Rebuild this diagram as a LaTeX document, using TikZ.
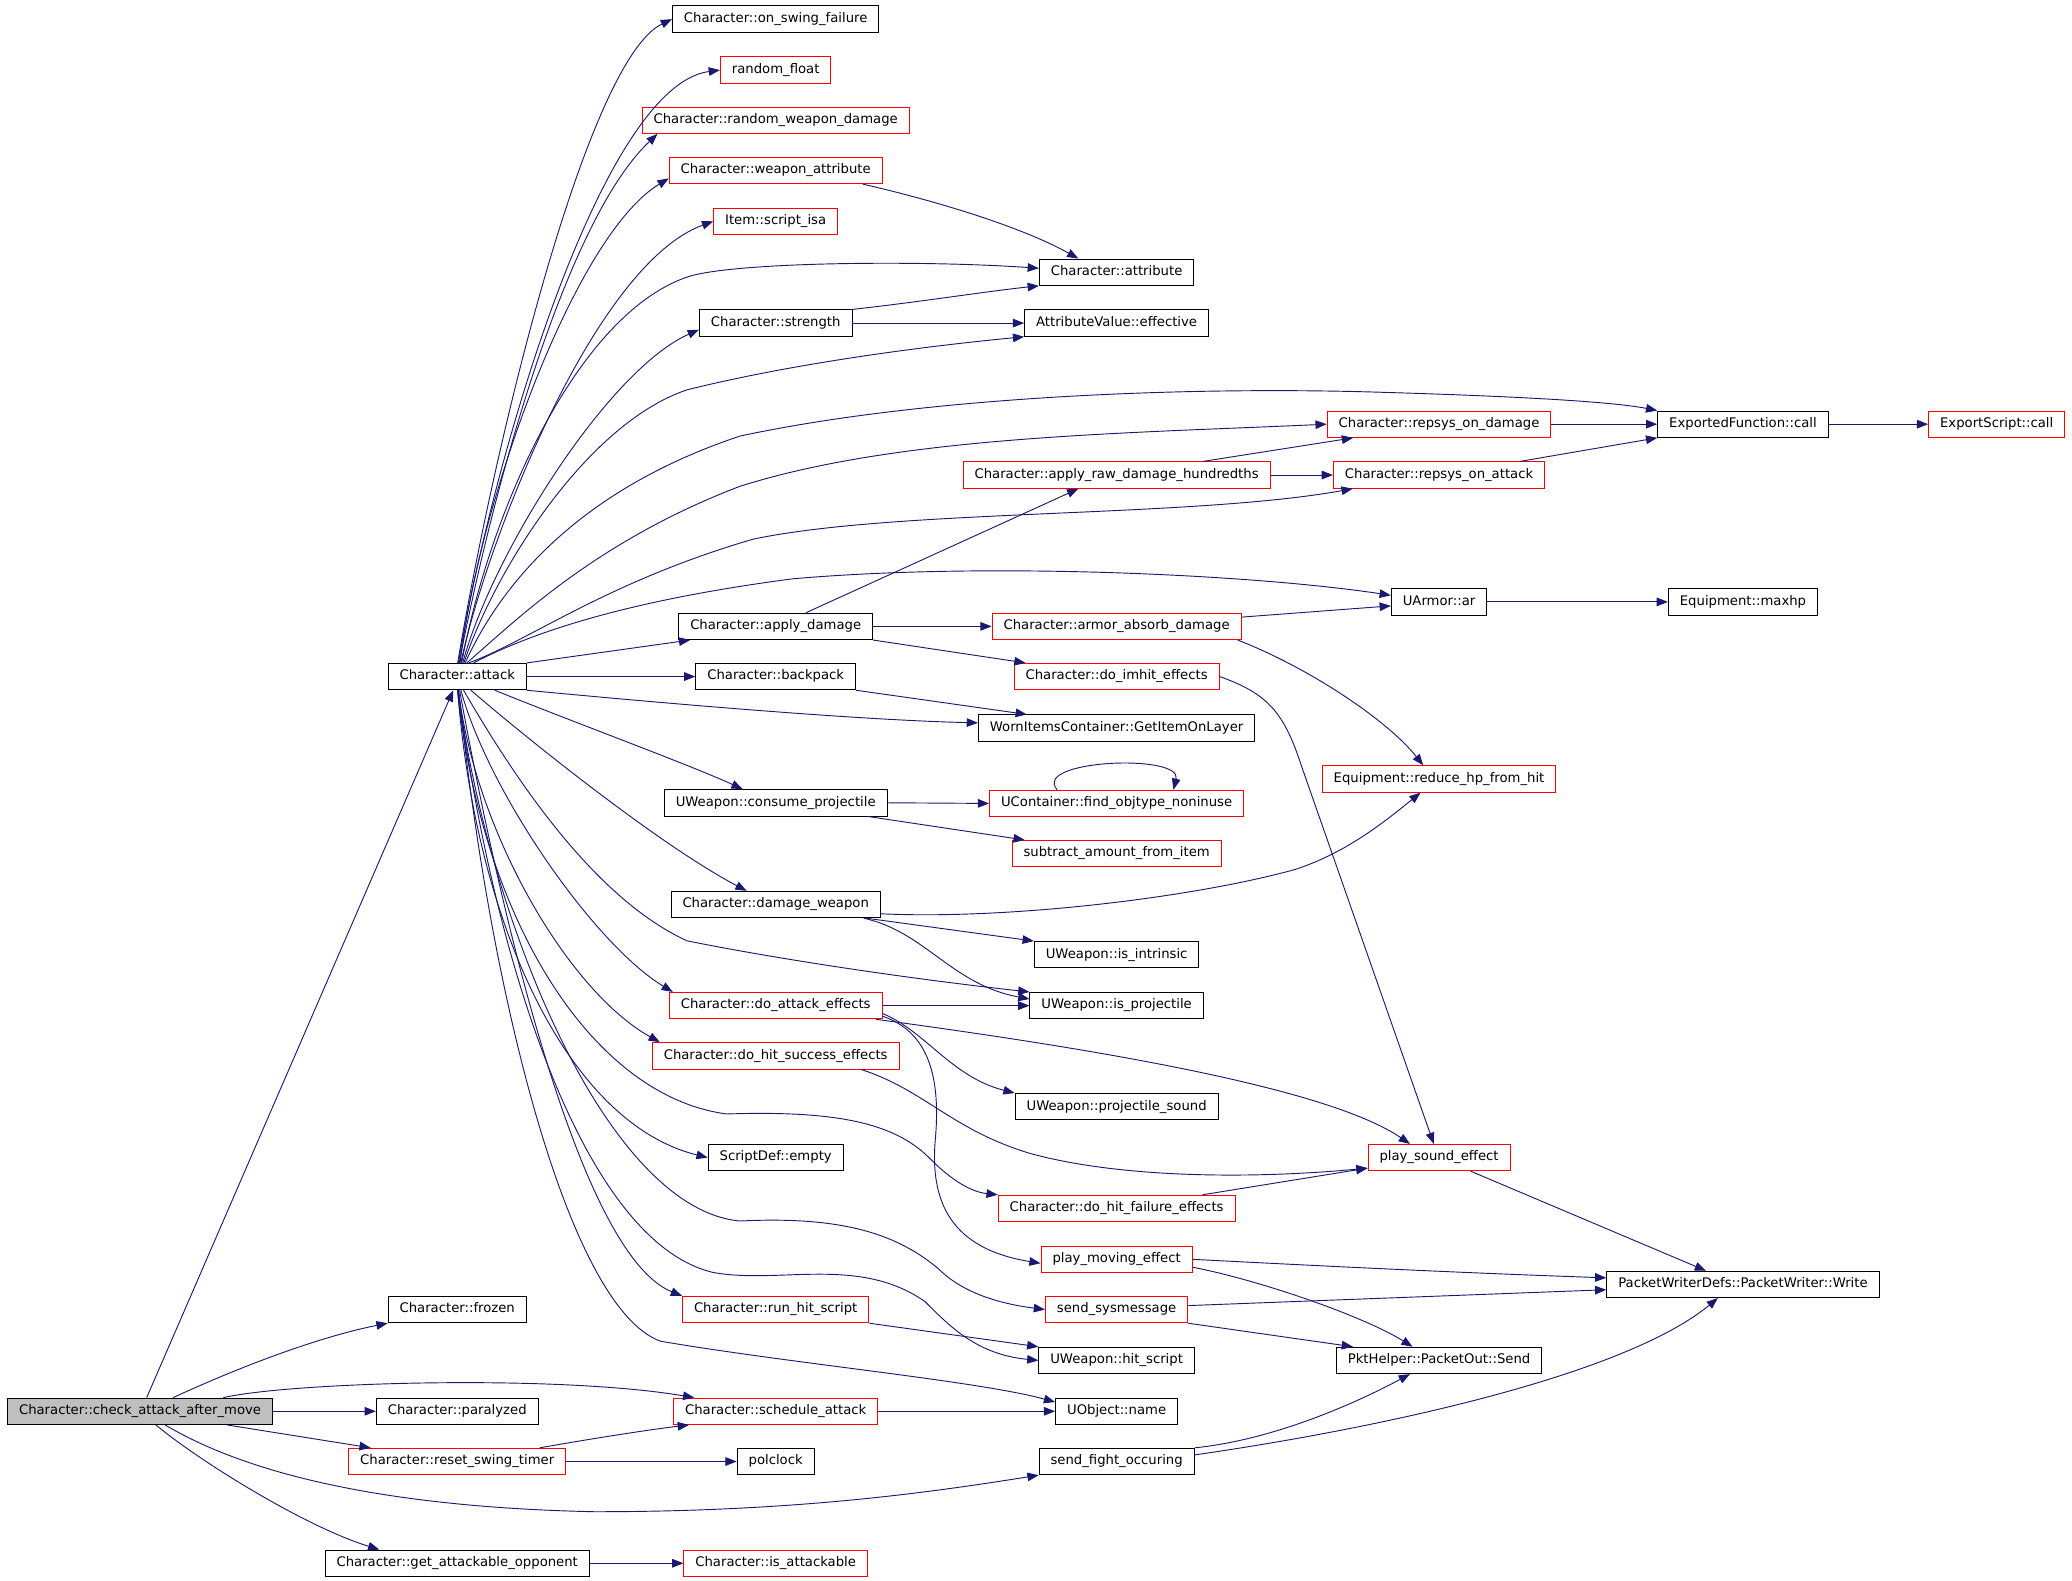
\documentclass[tikz,border=0pt]{standalone}
\usepackage{fontspec}
\setmainfont{DejaVu Sans}
\usepackage{tikz}
\usetikzlibrary{arrows.meta}
\definecolor{edgeblue}{HTML}{191970}
\definecolor{rootgray}{HTML}{BFBFBF}

\begin{document}
\begin{tikzpicture}[x=1pt, y=-1pt,
    fn/.style={
      rectangle,
      draw=black,
      fill=white,
      line width=0.7pt,
      minimum height=20pt,
      inner xsep=8.7pt,
      inner ysep=0pt,
      text height=7.3pt,
      text depth=2.3pt,
      font=\fontsize{10}{12}\selectfont
    },
    undoc/.style={fn, draw=red},
    root/.style={fn, fill=rootgray},
    >={Triangle[length=8.5pt,width=6.5pt]},
    call/.style={->, draw=edgeblue, line width=0.7pt}
  ]
  \useasboundingbox (0,0) rectangle (1568,1196);

  \node[root] (cam) at (106,1068) {Character::check\_attack\_after\_move};

  \node[fn] (att) at (346,512) {Character::attack};
  \node[fn] (frz) at (346,991) {Character::frozen};
  \node[fn] (par) at (346,1068) {Character::paralyzed};
  \node[undoc] (rst) at (346,1106) {Character::reset\_swing\_timer};
  \node[fn] (gao) at (346,1183) {Character::get\_attackable\_opponent};

  \node[fn] (osf) at (587,14.5) {Character::on\_swing\_failure};
  \node[undoc] (rnd) at (587,53) {random\_float};
  \node[undoc] (rwd) at (587,91) {Character::random\_weapon\_damage};
  \node[undoc] (wat) at (587,129) {Character::weapon\_attribute};
  \node[undoc] (isa) at (587,167.5) {Item::script\_isa};
  \node[fn] (str) at (587,244.5) {Character::strength};
  \node[fn] (apd) at (587,474) {Character::apply\_damage};
  \node[fn] (bpk) at (587,512) {Character::backpack};
  \node[fn] (cpr) at (587,607.5) {UWeapon::consume\_projectile};
  \node[fn] (dmw) at (587,684.5) {Character::damage\_weapon};
  \node[undoc] (dae) at (587,761) {Character::do\_attack\_effects};
  \node[undoc] (dhs) at (587,799) {Character::do\_hit\_success\_effects};
  \node[fn] (sde) at (587,876) {ScriptDef::empty};
  \node[undoc] (rhs) at (587,991) {Character::run\_hit\_script};
  \node[undoc] (sch) at (587,1068) {Character::schedule\_attack};
  \node[fn] (pcl) at (587,1106) {polclock};
  \node[undoc] (iat) at (587,1183) {Character::is\_attackable};

  \node[fn] (cat) at (845,206) {Character::attribute};
  \node[fn] (eff) at (845,244.5) {AttributeValue::effective};
  \node[undoc] (ard) at (845,359.5) {Character::apply\_raw\_damage\_hundredths};
  \node[undoc] (aad) at (845,474) {Character::armor\_absorb\_damage};
  \node[undoc] (dim) at (845,512) {Character::do\_imhit\_effects};
  \node[fn] (wic) at (845,551) {WornItemsContainer::GetItemOnLayer};
  \node[undoc] (fon) at (845,608) {UContainer::find\_objtype\_noninuse};
  \node[undoc] (sai) at (845,646) {subtract\_amount\_from\_item};
  \node[fn] (iin) at (845,722.5) {UWeapon::is\_intrinsic};
  \node[fn] (ipr) at (845,761) {UWeapon::is\_projectile};
  \node[fn] (psd) at (845,837.5) {UWeapon::projectile\_sound};
  \node[undoc] (dhf) at (845,914.5) {Character::do\_hit\_failure\_effects};
  \node[undoc] (pme) at (845,953) {play\_moving\_effect};
  \node[undoc] (ssm) at (845,991) {send\_sysmessage};
  \node[fn] (uhs) at (845,1029.5) {UWeapon::hit\_script};
  \node[fn] (uon) at (845,1068) {UObject::name};
  \node[fn] (sfo) at (845,1106) {send\_fight\_occuring};

  \node[undoc] (rod) at (1089,321) {Character::repsys\_on\_damage};
  \node[undoc] (roa) at (1089,359.5) {Character::repsys\_on\_attack};
  \node[fn] (uar) at (1089,455.5) {UArmor::ar};
  \node[undoc] (rhp) at (1089,589.5) {Equipment::reduce\_hp\_from\_hit};
  \node[undoc] (pse) at (1089,876) {play\_sound\_effect};
  \node[fn] (pos) at (1089,1029.5) {PktHelper::PacketOut::Send};

  \node[fn] (efc) at (1319,321) {ExportedFunction::call};
  \node[fn] (mhp) at (1319,455.5) {Equipment::maxhp};
  \node[fn] (pww) at (1319,972) {PacketWriterDefs::PacketWriter::Write};
  \node[undoc] (esc) at (1511,321) {ExportScript::call};

  \draw[call] ([xshift=5pt]cam.north) -- ([xshift=-3pt]att.south);
  \draw[call] ([xshift=25pt]cam.north) .. controls (180,1035) and (240,1012) .. (frz.south west);
  \draw[call] (cam.east) -- (par.west);
  \draw[call] ([xshift=63pt]cam.north) .. controls (220,1046) and (420,1040) .. ([xshift=16pt]sch.north west);
  \draw[call] ([xshift=66pt]cam.south) -- ([xshift=17pt]rst.north west);
  \draw[call] ([xshift=19pt]cam.south) .. controls (170,1105) and (260,1140) .. (450,1144) .. controls (600,1144) and (700,1130) .. (sfo.south west);
  \draw[call] ([xshift=12pt]cam.south) .. controls (150,1105) and (230,1155) .. ([xshift=-59pt]gao.north);

  \draw[call] (att.88) .. controls (375,330) and (445,45) .. (osf.west);
  \draw[call] (att.85) .. controls (372,350) and (455,65) .. (rnd.west);
  \draw[call] (att.82) .. controls (375,360) and (430,165) .. ([xshift=12pt]rwd.south west);
  \draw[call] (att.78) .. controls (362,380) and (435,178) .. ([yshift=-6pt]wat.west);
  \draw[call] (att.75) .. controls (368,410) and (450,200) .. (isa.west);
  \draw[call] (att.72) .. controls (372,380) and (440,235) .. (522,209) .. controls (560,198) and (700,197) .. ([yshift=3pt]cat.west);
  \draw[call] (att.68) .. controls (372,420) and (460,280) .. ([yshift=-5pt]str.west);
  \draw[call] (att.64) .. controls (375,430) and (445,320) .. (520,295) .. controls (600,275) and (700,262) .. (eff.south west);
  \draw[call] (att.60) .. controls (380,440) and (440,370) .. (560,330) .. controls (700,300) and (900,292) .. (1050,297) .. controls (1150,300) and (1220,304) .. (efc.north west);
  \draw[call] (att.55) .. controls (390,470) and (450,410) .. (560,368) .. controls (680,330) and (850,328) .. (rod.west);
  \draw[call] (att.50) .. controls (400,485) and (460,440) .. (570,408) .. controls (680,385) and (900,392) .. ([xshift=15pt]roa.south west);
  \draw[call] (att.40) .. controls (400,480) and (470,455) .. (600,438) .. controls (750,425) and (950,435) .. ([yshift=5pt]uar.west);
  \draw[call] (att.north east) -- ([xshift=9pt]apd.south west);
  \draw[call] (att.east) -- (bpk.west);
  \draw[call] (att.south east) .. controls (500,532) and (650,545) .. ([yshift=4pt]wic.west);
  \draw[call] (att.-20) .. controls (430,545) and (520,578) .. ([xshift=-25pt]cpr.north);
  \draw[call] (att.-45) .. controls (400,560) and (500,640) .. ([xshift=-22pt]dmw.north);
  \draw[call] (att.-65) .. controls (390,590) and (450,680) .. (520,712) .. controls (600,728) and (700,742) .. (ipr.north west);
  \draw[call] (att.-75) .. controls (370,600) and (450,715) .. ([xshift=3pt]dae.north west);
  \draw[call] (att.-85) .. controls (360,630) and (430,750) .. ([xshift=6pt]dhs.north west);
  \draw[call] (att.-88) .. controls (360,700) and (430,850) .. (sde.west);
  \draw[call] (att.-89) .. controls (365,700) and (450,830) .. (550,843) .. controls (640,840) and (680,852) .. (705,878) .. controls (720,893) and (735,902) .. (dhf.north west);
  \draw[call] (att.-87) .. controls (370,700) and (460,915) .. (560,924) .. controls (640,920) and (680,935) .. (710,960) .. controls (730,980) and (760,987) .. (ssm.west);
  \draw[call] (att.-86) .. controls (372,720) and (440,940) .. (540,963) .. controls (590,972) and (650,950) .. (700,985) .. controls (720,1005) and (740,1025) .. (uhs.west);
  \draw[call] (att.-80) .. controls (380,700) and (440,950) .. (rhs.north west);
  \draw[call] (att.-84) .. controls (370,750) and (430,990) .. (500,1015) .. controls (600,1032) and (740,1045) .. ([yshift=7pt]uon.west);

  \draw[call] ([xshift=-15pt]wat.south east) .. controls (700,150) and (770,170) .. ([xshift=-29pt]cat.north);
  \draw[call] (str.north east) .. controls (700,228) and (750,220) .. (cat.south west);
  \draw[call] (str.east) -- (eff.west);
  \draw[call] ([xshift=23pt]apd.north) -- ([xshift=-29pt]ard.south);
  \draw[call] (apd.east) -- (aad.west);
  \draw[call] (apd.south east) -- ([xshift=9pt]dim.north west);
  \draw[call] ([xshift=-51pt]ard.north east) -- ([xshift=20pt]rod.south west);
  \draw[call] (ard.east) -- (roa.west);
  \draw[call] (rod.east) -- (efc.west);
  \draw[call] ([xshift=-19pt]roa.north east) -- (efc.south west);
  \draw[call] (efc.east) -- (esc.west);
  \draw[call] ([yshift=7pt]aad.east) -- ([yshift=-3pt]uar.west);
  \draw[call] ([xshift=-3pt]aad.south east) .. controls (990,505) and (1050,545) .. ([xshift=-12pt]rhp.north);
  \draw[call] (uar.east) -- (mhp.west);
  \draw[call] (dim.east) .. controls (960,525) and (972,540) .. (985,580) -- ([xshift=-4pt]pse.north);
  \draw[call] (bpk.south east) -- ([xshift=37pt]wic.north west);
  \draw[call] (cpr.east) -- (fon.west);
  \draw[call] ([xshift=-15pt]cpr.south east) -- ([xshift=10pt]sai.north west);
  \draw[call] ([xshift=-45pt]fon.north) .. controls (780,575) and (895,570) .. ([xshift=43pt]fon.north);
  \draw[call] ([yshift=-7pt]dmw.east) .. controls (760,696) and (900,680) .. (980,658) .. controls (1020,645) and (1050,620) .. ([xshift=-14pt]rhp.south);
  \draw[call] ([xshift=-11pt]dmw.south east) -- (iin.north west);
  \draw[call] ([xshift=-13pt]dmw.south east) .. controls (700,705) and (720,745) .. ([yshift=5pt]ipr.west);
  \draw[call] (dae.east) -- (ipr.west);
  \draw[call] ([yshift=-6pt]dae.east) .. controls (700,780) and (720,815) .. (psd.north west);
  \draw[call] ([xshift=-5pt]dae.south east) .. controls (800,790) and (1000,820) .. ([xshift=-22pt]pse.north);
  \draw[call] ([yshift=-8pt]dae.east) .. controls (700,780) and (712,810) .. (708,860) .. controls (703,910) and (720,945) .. ([yshift=-3pt]pme.west);
  \draw[call] ([xshift=-29pt]dhs.south east) .. controls (700,825) and (720,855) .. (780,873) .. controls (850,892) and (950,892) .. ([yshift=-8pt]pse.west);
  \draw[call] ([xshift=-25pt]dhf.north east) -- ([yshift=-8pt]pse.west);
  \draw[call] ([xshift=24pt]pse.south) -- ([xshift=-28pt]pww.north);
  \draw[call] (pme.east) .. controls (1000,958) and (1100,963) .. ([yshift=5pt]pww.west);
  \draw[call] ([yshift=-6pt]pme.east) .. controls (950,968) and (1030,995) .. ([xshift=-20pt]pos.north);
  \draw[call] ([yshift=3pt]ssm.east) -- ([yshift=-4pt]pww.west);
  \draw[call] (ssm.south east) -- ([xshift=13pt]pos.north west);
  \draw[call] (rhs.south east) -- (uhs.north west);
  \draw[call] (sch.east) -- (uon.west);
  \draw[call] ([xshift=-20pt]rst.north east) .. controls (440,1090) and (490,1082) .. ([xshift=12pt]sch.south west);
  \draw[call] (rst.east) -- (pcl.west);
  \draw[call] (gao.east) -- (iat.west);
  \draw[call] (sfo.north east) .. controls (960,1090) and (1020,1065) .. ([xshift=-22pt]pos.south);
  \draw[call] ([yshift=5pt]sfo.east) .. controls (1050,1080) and (1230,1040) .. ([xshift=-19pt]pww.south);
\end{tikzpicture}
\end{document}
